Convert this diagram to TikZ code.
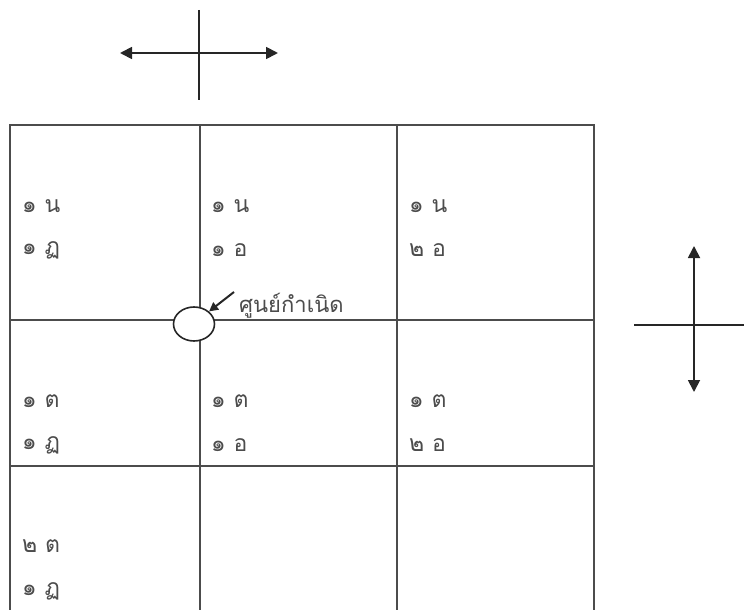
\documentclass[tikz,border=0pt]{standalone}
\usepackage{fontspec}
\newfontfamily\thaifont[Script=Thai]{Loma}
\usetikzlibrary{arrows.meta,shapes.geometric}
\begin{document}
\begin{tikzpicture}[x=1pt,y=-1pt,
  grid/.style={line width=1.6pt, draw=black!70},
  axis/.style={line width=1.8pt, draw=black!85},
  lbl/.style={font=\thaifont\fontsize{23}{23}\selectfont, text=black!70, anchor=west, inner sep=0pt}]
\useasboundingbox (0,0) rectangle (744,610);
% grid
\coordinate (tl) at (10,125);
\coordinate (tr) at (594,125);
\coordinate (bl) at (10,610);
\coordinate (br) at (594,610);
\coordinate (v1t) at (200,125);
\coordinate (v1b) at (200,610);
\coordinate (v2t) at (397,125);
\coordinate (v2b) at (397,610);
\coordinate (h1l) at (10,320);
\coordinate (h1r) at (594,320);
\coordinate (h2l) at (10,466);
\coordinate (h2r) at (594,466);
\draw[grid] (bl) -- (tl) -- (tr) -- (br);
\draw[grid] (v1t) -- (v1b);
\draw[grid] (v2t) -- (v2b);
\draw[grid] (h1l) -- (h1r);
\draw[grid] (h2l) -- (h2r);
% origin
\node[draw=black!85, line width=1.6pt, fill=white, ellipse, minimum width=41pt, minimum height=34pt, inner sep=0pt] (origin) at (194,324) {};
\node[lbl, font=\thaifont\fontsize{22}{22}\selectfont] (olbl) at (239,306) {ศูนย์กำเนิด};
\coordinate (atail) at (234,292);
\draw[axis, line width=2pt, -{Triangle[length=9pt,width=9pt]}] (atail) -- (origin.north east);
% labels
\node[lbl] (a1) at (22,206) {๑ น};
\node[lbl] (a2) at (22,250) {๑ ฏ};
\node[lbl] (b1) at (211,206) {๑ น};
\node[lbl] (b2) at (211,250) {๑ อ};
\node[lbl] (c1) at (409,206) {๑ น};
\node[lbl] (c2) at (409,250) {๒ อ};
\node[lbl] (d1) at (22,401) {๑ ต};
\node[lbl] (d2) at (22,445) {๑ ฏ};
\node[lbl] (e1) at (211,401) {๑ ต};
\node[lbl] (e2) at (211,445) {๑ อ};
\node[lbl] (f1) at (409,401) {๑ ต};
\node[lbl] (f2) at (409,445) {๒ อ};
\node[lbl] (g1) at (22,546) {๒ ต};
\node[lbl] (g2) at (22,591) {๑ ฏ};
% top cross
\coordinate (tw) at (120,53);
\coordinate (te) at (278,53);
\coordinate (tn) at (199,10);
\coordinate (ts) at (199,100);
\draw[axis, {Triangle[length=12pt,width=12pt]}-{Triangle[length=12pt,width=12pt]}] (tw) -- (te);
\draw[axis, line width=1.4pt] (tn) -- (ts);
% right cross
\coordinate (rn) at (694,246);
\coordinate (rs) at (694,392);
\coordinate (rw) at (634,325);
\coordinate (re) at (744,325);
\draw[axis, {Triangle[length=12pt,width=12pt]}-{Triangle[length=12pt,width=12pt]}] (rn) -- (rs);
\draw[axis, line width=1.4pt] (rw) -- (re);
\end{tikzpicture}
\end{document}
